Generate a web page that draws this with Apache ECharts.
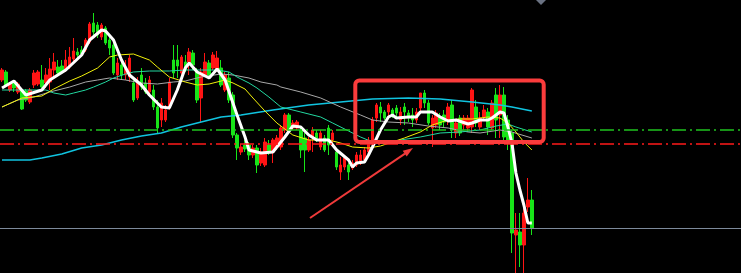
<!DOCTYPE html>
<html>
<head>
<meta charset="utf-8">
<script src="https://cdn.jsdelivr.net/npm/echarts@6/dist/echarts.min.js"></script>
<style>
html,body{margin:0;padding:0;background:#000;}
#chart{width:741px;height:273px;}
</style>
</head>
<body>
<div id="chart"></div>
<script>
// category slots (hidden axis); candles fill the first 134, the rest is empty space
const categories = Array.from({length: 186}, (_, i) => 'K' + (i + 1));

// [open, close, lowest, highest]
const candles = [
[220,230,218,232],[228,215,213,230],[210,216,208,218],[217,212,208,220],[208,216,206,218],
[210,191,190,212],[209,200,198,211],[198,210,196,212],[215,227,212,230],[216,228,214,230],
[220,213,212,235],[217,225,212,232],[218,231,210,242],[230,238,223,247],[233,227,225,240],
[234,228,226,240],[230,240,228,250],[233,243,231,253],[241,249,239,262],[248,245,242,252],
[250,246,243,254],[250,260,248,262],[258,276,256,278],[277,268,265,287],[275,265,262,278],
[263,275,260,277],[272,257,255,274],[260,252,245,265],[255,227,225,260],[225,237,220,242],
[235,225,220,243],[225,232,220,240],[223,242,218,245],[217,200,198,223],[202,218,200,223],
[225,213,210,232],[217,208,206,222],[208,220,205,224],[210,193,190,215],[193,172,167,200],
[180,197,173,202],[180,190,178,195],[193,218,190,222],[240,227,222,255],[240,234,222,255],
[227,243,220,245],[238,230,228,245],[238,248,225,252],[247,235,230,250],[228,200,197,232],
[202,228,178,232],[225,238,223,247],[237,225,222,240],[232,245,230,248],[230,242,228,249],
[232,215,213,240],[210,225,208,228],[222,200,197,228],[205,165,162,208],[165,152,140,167],
[148,153,145,156],[155,151,148,160],[155,145,140,158],[145,152,142,155],[152,135,127,155],
[137,148,134,152],[135,158,133,162],[155,148,145,160],[148,160,137,162],[153,162,150,165],
[153,172,150,175],[170,185,167,187],[185,170,168,187],[172,177,170,180],[172,178,170,180],
[170,150,142,173],[162,150,128,167],[150,160,148,163],[163,170,148,173],[167,160,158,170],
[153,167,150,170],[162,150,148,165],[172,155,145,175],[160,167,157,170],[148,133,130,152],
[128,135,120,143],[133,142,130,145],[135,128,120,137],[132,137,130,140],[135,145,133,148],
[137,145,135,150],[140,150,137,153],[148,160,145,163],[160,180,158,183],[182,195,178,197],
[193,187,178,198],[188,182,180,190],[188,195,182,197],[190,185,182,192],[192,187,183,195],
[180,188,175,193],[193,188,175,197],[187,182,178,190],[185,180,173,192],[180,188,177,192],
[192,207,188,207],[207,197,192,210],[197,177,175,200],[172,182,153,185],[175,187,172,190],
[183,175,170,187],[185,178,173,190],[180,193,175,197],[195,170,162,200],[167,177,162,180],
[182,167,164,185],[175,182,170,185],[172,182,168,185],[173,210,167,212],[193,177,173,200],
[173,182,170,188],[183,190,180,195],[188,173,165,192],[172,197,170,200],[205,180,162,212],
[185,205,162,215],[205,163,160,213],[180,158,150,185],[167,67,47,170],[65,70,27,87],
[68,55,33,87],[55,87,27,97],[93,100,88,122],[100,72,65,110]
];

// moving averages: [candle index, value]
const maWhite = [[0,212],[3,219],[6,205],[10,210],[12,220],[16,230],[20,245],[22,260],[25,270],[26,269],
[28,260],[30,240],[32,225],[35,215],[37,205],[40,193],[42,192],[44,210],[46,232],[47,237],[49,228],
[51,224],[52,222],[54,231],[56,220],[59,185],[61,163],[62,150],[65,147],[68,148],[71,163],[73,174],
[75,173],[77,165],[79,160],[82,160],[84,150],[87,140],[88,133],[89,137],[91,138],[92,145],[93,153],
[95,170],[97,183],[98,185],[99,182],[102,183],[104,183],[105,188],[108,188],[110,183],[112,179],
[114,180],[117,176],[118,177],[120,180],[122,180],[123,182],[125,188],[126,187],[127,173],[128,157],
[129,127],[130,110],[131,95],[132,77],[133,77]];
const maYellow = [[0,193],[5,202],[10,204],[13,211],[17,219],[20,224],[24,232],[27,243],[29,245],[33,246],
[37,240],[39,233],[42,223],[46,218],[49,215],[52,216],[56,220],[58,217],[61,211],[63,202],[66,189],
[69,177],[73,165],[77,160],[82,160],[85,157],[88,153],[92,152],[95,154],[98,158],[101,162],[105,168],
[108,175],[112,180],[115,181],[118,181],[122,183],[125,182],[127,177],[129,168],[131,158],[133,150]];
const maTeal = [[0,210],[5,210],[11,210],[13,207],[16,205],[18,207],[21,210],[23,213],[26,218],[28,222],
[31,226],[33,228],[37,229],[42,229],[46,230],[50,230],[54,230],[57,228],[59,223],[62,217],[64,212],
[67,203],[70,193],[75,188],[80,183],[83,177],[87,169],[90,163],[93,158],[97,157],[100,160],[105,163],
[110,167],[115,168],[120,170],[124,174],[127,176],[129,173],[133,168]];
const maGray = [[0,193],[4,200],[8,203],[12,208],[17,213],[21,218],[24,220],[27,222],[31,220],[35,217],
[39,216],[43,218],[46,219],[50,223],[55,226],[58,225],[62,222],[65,218],[69,215],[70,213],[75,208],
[80,202],[85,193],[90,185],[93,180],[97,178],[102,177],[107,174],[112,172],[117,168],[120,167],
[125,170],[128,168],[133,162]];
const maCyan = [[0,140],[7,140],[10,142],[15,146],[20,152],[25,155],[30,160],[35,164],[40,167],[45,173],
[50,178],[55,183],[60,185],[68,190],[77,195],[85,198],[93,201],[102,202],[110,201],[118,198],
[125,195],[128,193],[133,189]];

// horizontal reference levels
const levelGreen = 170;
const levelRed = 156;
const levelGray = 72;

const chart = echarts.init(document.getElementById('chart'), null, {renderer: 'canvas'});
function ma(name, data, color, width) {
  return {
    name: name, type: 'line', data: data, symbol: 'none', showSymbol: false,
    silent: true, lineStyle: {color: color, width: width}, z: 3
  };
}
chart.setOption({
  animation: false,
  backgroundColor: '#000000',
  grid: {left: -1, right: -1.3, top: 0, bottom: 0},
  xAxis: {type: 'category', data: categories, boundaryGap: true, show: false},
  yAxis: {type: 'value', min: 27, max: 300, show: false, splitLine: {show: false}},
  series: [
    {
      type: 'candlestick', data: candles, barWidth: 3, silent: true,
      itemStyle: {color: '#ff1414', color0: '#18e418', borderColor: '#ff1414', borderColor0: '#18e418', borderWidth: 1},
      markLine: {
        symbol: 'none', silent: true, label: {show: false},
        data: [
          {yAxis: levelGreen, lineStyle: {color: '#1fc41f', type: [14, 4, 2, 4], width: 1.5}},
          {yAxis: levelRed, lineStyle: {color: '#ff1a1a', type: [14, 4, 2, 4], width: 1.5}},
          {yAxis: levelGray, lineStyle: {color: '#7d8a9b', type: 'solid', width: 1.2}}
        ]
      },
      z: 2
    },
    ma('MA60', maCyan, '#10c4e0', 1.5),
    ma('MA30', maGray, '#a8a8a8', 1),
    ma('MA20', maTeal, '#22d8a0', 1),
    ma('MA10', maYellow, '#f2f20a', 1),
    ma('MA5', maWhite, '#ffffff', 3)
  ],
  graphic: [
    {type: 'rect', shape: {x: 355.3, y: 80.4, width: 188.4, height: 61.6, r: 4},
     style: {fill: 'none', stroke: '#fa3c3c', lineWidth: 4}, z: 100},
    {type: 'line', shape: {x1: 310, y1: 218, x2: 405, y2: 153.6},
     style: {stroke: '#f03a3a', lineWidth: 2}, z: 100},
    {type: 'polygon', shape: {points: [[413, 148], [406.7, 156.5], [402.7, 150.7]]},
     style: {fill: '#f03a3a'}, z: 100},
    {type: 'polygon', shape: {points: [[536, 0], [546, 0], [541, 5]]},
     style: {fill: '#6a7282'}, z: 100}
  ]
});
</script>
</body>
</html>
